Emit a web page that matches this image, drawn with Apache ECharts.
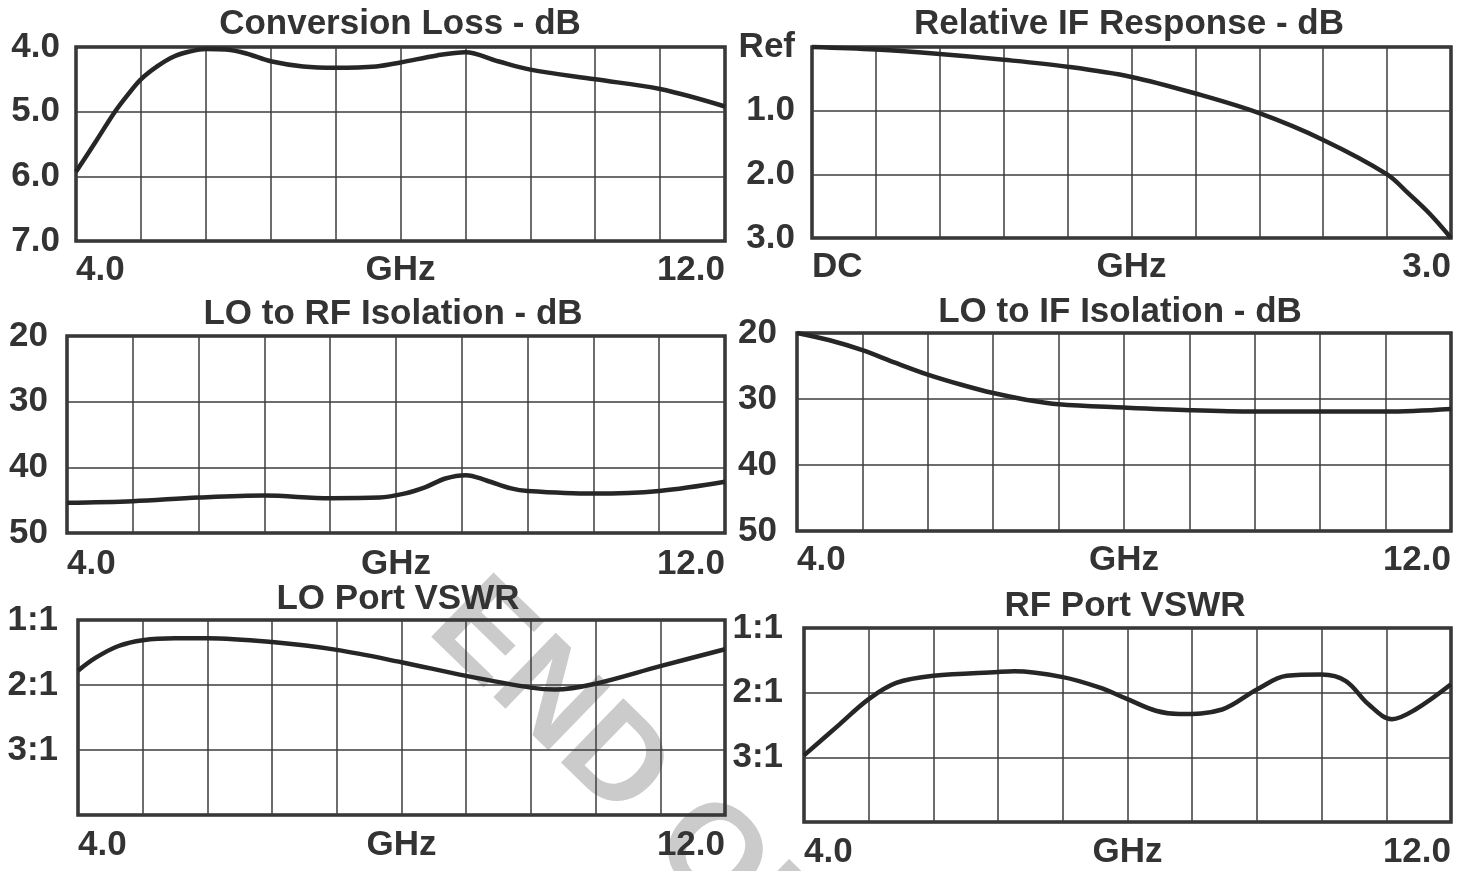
<!DOCTYPE html>
<html>
<head>
<meta charset="utf-8">
<script src="https://cdn.jsdelivr.net/npm/echarts@6/dist/echarts.min.js"></script>
<style>
  html, body { margin: 0; padding: 0; background: #fff; }
  #chart { width: 1472px; height: 871px; }
</style>
</head>
<body>
<div id="chart"></div>
<script>
// --- data ---
const titles = [
  'Conversion Loss - dB', 'Relative IF Response - dB',
  'LO to RF Isolation - dB', 'LO to IF Isolation - dB',
  'LO Port VSWR', 'RF Port VSWR'
];

const ghzLabels = ['4.0', 'GHz', '12.0'];
const ifLabels = ['DC', 'GHz', '3.0'];
const lossTicks = ['4.0', '5.0', '6.0', '7.0'];
const ifTicks = ['Ref', '1.0', '2.0', '3.0'];
const isoTicks = ['20', '30', '40', '50'];
const vswrTicks = ['1:1', '2:1', '3:1', ''];

const convLossX = [4.0, 4.25, 4.48, 4.65, 4.8, 5.0, 5.2, 5.4, 5.6, 5.85, 6.1, 6.4, 6.8, 7.2, 7.7, 8.0, 8.45, 8.8, 9.2, 9.6, 10.4, 11.2, 12.0];
const convLossY = [5.93, 5.45, 5.0, 4.72, 4.5, 4.3, 4.15, 4.07, 4.03, 4.04, 4.1, 4.22, 4.3, 4.32, 4.3, 4.24, 4.13, 4.08, 4.22, 4.35, 4.5, 4.65, 4.92];

const ifRespX = [0, 0.3, 0.6, 0.9, 1.2, 1.5, 1.8, 2.1, 2.4, 2.7, 2.8, 2.9, 3.0];
const ifRespY = [0, 0.04, 0.11, 0.2, 0.31, 0.47, 0.73, 1.04, 1.46, 2.0, 2.3, 2.62, 3.0];

const loRfX = [4.0, 4.8, 5.6, 6.4, 7.2, 7.8, 8.1, 8.36, 8.6, 8.85, 9.1, 9.4, 9.6, 10.4, 11.2, 12.0];
const loRfY = [45.4, 45.15, 44.6, 44.3, 44.7, 44.6, 44.0, 43.0, 41.7, 41.2, 42.0, 43.2, 43.6, 44.0, 43.6, 42.2];

const loIfX = [4.0, 4.4, 4.8, 5.2, 5.6, 6.0, 6.4, 6.8, 7.2, 8.0, 8.8, 9.6, 10.4, 11.2, 12.0];
const loIfY = [20, 21.1, 22.6, 24.5, 26.3, 27.8, 29.1, 30.1, 30.8, 31.3, 31.7, 31.9, 31.9, 31.9, 31.5];

const loVswrX = [4.0, 4.22, 4.5, 4.8, 5.2, 5.6, 6.4, 7.2, 8.0, 8.8, 9.6, 9.9, 10.4, 11.2, 12.0];
const loVswrY = [1.78, 1.58, 1.4, 1.31, 1.28, 1.28, 1.34, 1.46, 1.65, 1.86, 2.04, 2.07, 1.98, 1.71, 1.45];

const rfVswrX = [4.0, 4.44, 4.8, 5.14, 5.6, 6.4, 6.6, 7.2, 7.65, 8.0, 8.35, 8.64, 9.17, 9.6, 9.97, 10.4, 10.7, 10.98, 11.27, 11.56, 12.0];
const rfVswrY = [2.97, 2.49, 2.1, 1.85, 1.74, 1.68, 1.67, 1.76, 1.92, 2.1, 2.28, 2.33, 2.26, 1.95, 1.74, 1.72, 1.82, 2.18, 2.41, 2.26, 1.87];

// --- panel layout ---
const panels = [
  { grid: [76, 47, 649, 194], title: [400, 7], xm: 12, x: [4, 12, 0.8, ghzLabels], y: [4, 7, 1, lossTicks], ym: 16, xs: convLossX, ys: convLossY },
  { grid: [812, 47, 639, 191], title: [1129, 7], xm: 12, x: [0, 3, 0.3, ifLabels], y: [0, 3, 1, ifTicks], ym: 17, xs: ifRespX, ys: ifRespY },
  { grid: [67, 336, 658, 197], title: [393, 297], xm: 14, x: [4, 12, 0.8, ghzLabels], y: [20, 50, 10, isoTicks], ym: 19, xs: loRfX, ys: loRfY },
  { grid: [797, 333, 654, 198], title: [1120, 295], xm: 12, x: [4, 12, 0.8, ghzLabels], y: [20, 50, 10, isoTicks], ym: 20, xs: loIfX, ys: loIfY },
  { grid: [78, 620, 647, 195], title: [398, 582], xm: 13, x: [4, 12, 0.8, ghzLabels], y: [1, 4, 1, vswrTicks], ym: 20, xs: loVswrX, ys: loVswrY },
  { grid: [804, 628, 647, 194], title: [1125, 589], xm: 13, x: [4, 12, 0.8, ghzLabels], y: [1, 4, 1, vswrTicks], ym: 21, xs: rfVswrX, ys: rfVswrY }
];

const FONT = '"Liberation Sans", Arial, sans-serif';
const TEXT = '#333333';
const FS = 35;

const chart = echarts.init(document.getElementById('chart'));

const near = (a, b) => Math.abs(a - b) < 1e-6;

const option = {
  backgroundColor: '#ffffff',
  animation: false,
  title: panels.map((p, i) => ({
    text: titles[i],
    left: p.title[0],
    top: p.title[1],
    textAlign: 'center',
    padding: 0,
    textStyle: { color: TEXT, fontSize: FS, fontWeight: 'bold', fontFamily: FONT }
  })),
  graphic: [{
    type: 'text',
    z: -1,
    silent: true,
    x: 450,
    y: 605,
    rotation: -0.77,
    style: {
      text: 'END OF LIFE',
      fill: '#cbcbcb',
      font: 'bold 130px ' + FONT,
      align: 'left',
      verticalAlign: 'middle'
    }
  }],
  grid: panels.map(p => ({
    left: p.grid[0], top: p.grid[1], width: p.grid[2], height: p.grid[3],
    show: true,
    borderColor: '#2e2e2e',
    borderWidth: 3.5,
    containLabel: false
  })),
  xAxis: panels.map((p, i) => {
    const [min, max, step, labels] = p.x;
    const mid = (min + max) / 2;
    return {
      type: 'value',
      gridIndex: i,
      min, max, interval: step,
      axisLine: { show: false },
      axisTick: { show: false },
      splitLine: { show: true, lineStyle: { color: '#3c3c3c', width: 1.5 } },
      axisLabel: {
        color: TEXT, fontSize: FS, fontWeight: 'bold', fontFamily: FONT,
        margin: p.xm,
        alignMinLabel: 'left',
        alignMaxLabel: 'right',
        showMinLabel: true, showMaxLabel: true,
        formatter: v => near(v, min) ? labels[0] : near(v, mid) ? labels[1] : near(v, max) ? labels[2] : ''
      }
    };
  }),
  yAxis: panels.map((p, i) => {
    const [min, max, step, labels] = p.y;
    return {
      type: 'value',
      gridIndex: i,
      inverse: true,
      min, max, interval: step,
      axisLine: { show: false },
      axisTick: { show: false },
      splitLine: { show: true, lineStyle: { color: '#3c3c3c', width: 1.5 } },
      axisLabel: {
        color: TEXT, fontSize: FS, fontWeight: 'bold', fontFamily: FONT,
        margin: p.ym,
        padding: [5, 0, 0, 0],
        showMinLabel: true, showMaxLabel: true,
        formatter: v => labels[Math.round((v - min) / step)] ?? ''
      }
    };
  }),
  series: panels.map((p, i) => ({
    type: 'line',
    xAxisIndex: i,
    yAxisIndex: i,
    smooth: 0.35,
    symbol: 'none',
    clip: false,
    lineStyle: { color: '#262626', width: 4.5 },
    data: p.xs.map((x, k) => [x, p.ys[k]])
  }))
};

chart.setOption(option);
window.addEventListener('resize', () => chart.resize());
</script>
</body>
</html>
